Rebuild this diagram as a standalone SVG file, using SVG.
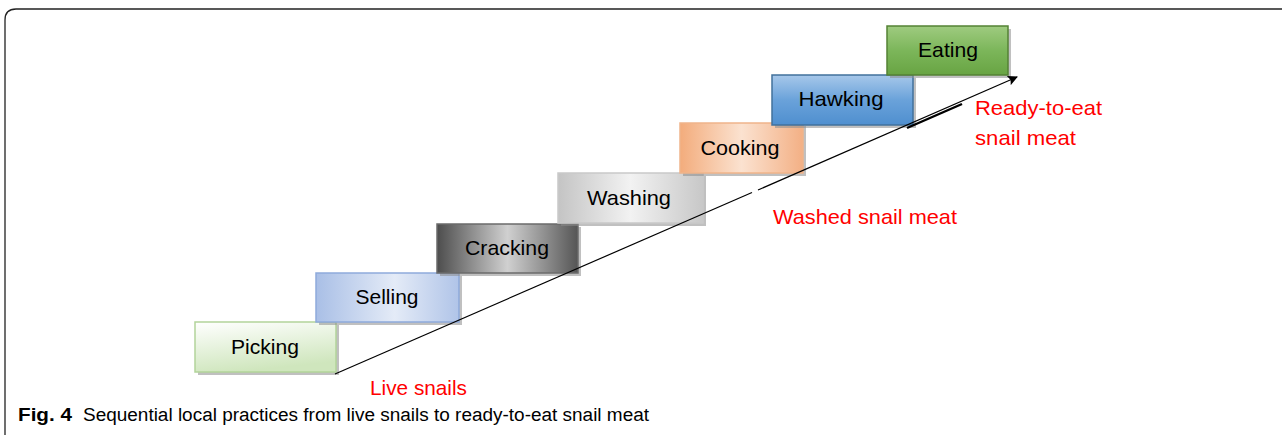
<svg xmlns="http://www.w3.org/2000/svg" width="1282" height="435" viewBox="0 0 1282 435">
<defs>
<linearGradient id="gPick" x1="0" y1="0" x2="0.3" y2="1"><stop offset="0" stop-color="#ffffff"/><stop offset="1" stop-color="#cfe6bd"/></linearGradient>
<linearGradient id="gSell" x1="0" y1="0" x2="1" y2="0"><stop offset="0" stop-color="#a9bfe6"/><stop offset="0.55" stop-color="#e4ebf7"/><stop offset="1" stop-color="#b0c4e8"/></linearGradient>
<linearGradient id="gCrack" x1="0" y1="0" x2="1" y2="0"><stop offset="0" stop-color="#4d4d4d"/><stop offset="0.5" stop-color="#d0d0d0"/><stop offset="1" stop-color="#555555"/></linearGradient>
<linearGradient id="gWash" x1="0" y1="0" x2="1" y2="0"><stop offset="0" stop-color="#c4c4c4"/><stop offset="0.5" stop-color="#f2f2f2"/><stop offset="1" stop-color="#c8c8c8"/></linearGradient>
<linearGradient id="gCook" x1="0" y1="0" x2="1" y2="0"><stop offset="0" stop-color="#f3ac7c"/><stop offset="0.5" stop-color="#fbe2d0"/><stop offset="1" stop-color="#f3b085"/></linearGradient>
<linearGradient id="gHawk" x1="0" y1="0" x2="0" y2="1"><stop offset="0" stop-color="#a7c8ea"/><stop offset="0.5" stop-color="#6aa2da"/><stop offset="1" stop-color="#4f8fcf"/></linearGradient>
<linearGradient id="gEat" x1="0" y1="0" x2="0" y2="1"><stop offset="0" stop-color="#9fcb80"/><stop offset="0.5" stop-color="#7cb65a"/><stop offset="1" stop-color="#68a443"/></linearGradient>
<marker id="arr" markerWidth="10" markerHeight="10" refX="9" refY="5" orient="auto" markerUnits="userSpaceOnUse"><path d="M0,0 L10,5 L0,10 L2,5 Z" fill="#000"/></marker>
</defs>
<style>
.box{stroke-width:1.5}
.sh{fill:#8c8c8c;opacity:0.55}
.lbl{font-family:"Liberation Sans",Arial,sans-serif;font-size:21px;fill:#000;text-anchor:middle}
.red{font-family:"Liberation Sans",Arial,sans-serif;font-size:21px;fill:#ff0000}
.cap{font-family:"Liberation Sans",Arial,sans-serif;font-size:18px;fill:#000}
</style>
<rect width="1282" height="435" fill="#fff"/>
<path d="M5,435 V20 Q5,9 16,9 H1282" fill="none" stroke="#222" stroke-width="1.3"/>

<g id="picking"><rect class="sh" x="198" y="325" width="141" height="50"/><rect class="box" x="195" y="322" width="141" height="50" fill="url(#gPick)" stroke="#b2d49a"/><text class="lbl" x="265" y="354" textLength="68" lengthAdjust="spacingAndGlyphs">Picking</text></g>
<g id="selling"><rect class="sh" x="319" y="276" width="143" height="49"/><rect class="box" x="316" y="273" width="143" height="49" fill="url(#gSell)" stroke="#8eaadb"/><text class="lbl" x="387" y="304" textLength="63" lengthAdjust="spacingAndGlyphs">Selling</text></g>
<g id="cracking"><rect class="sh" x="440" y="227" width="141" height="49"/><rect class="box" x="437" y="224" width="141" height="49" fill="url(#gCrack)" stroke="#6b6b6b"/><text class="lbl" x="507" y="255" textLength="84" lengthAdjust="spacingAndGlyphs">Cracking</text></g>
<g id="washing"><rect class="sh" x="561" y="176" width="145" height="50"/><rect class="box" x="558" y="173" width="145" height="50" fill="url(#gWash)" stroke="#c9c9c9"/><text class="lbl" x="629" y="205" textLength="84" lengthAdjust="spacingAndGlyphs">Washing</text></g>
<g id="cooking"><rect class="sh" x="683" y="126" width="123" height="50"/><rect class="box" x="680" y="123" width="123" height="50" fill="url(#gCook)" stroke="#f0b48a"/><text class="lbl" x="740" y="155" textLength="79" lengthAdjust="spacingAndGlyphs">Cooking</text></g>
<g id="hawking"><rect class="sh" x="775" y="78" width="141" height="50"/><rect class="box" x="772" y="75" width="141" height="50" fill="url(#gHawk)" stroke="#41719c"/><text class="lbl" x="841" y="106" textLength="85" lengthAdjust="spacingAndGlyphs">Hawking</text></g>
<g id="eating"><rect class="sh" x="890" y="29" width="121" height="49"/><rect class="box" x="887" y="26" width="121" height="49" fill="url(#gEat)" stroke="#548235"/><text class="lbl" x="948" y="57" textLength="60" lengthAdjust="spacingAndGlyphs">Eating</text></g>

<g id="connectors" fill="none" stroke="#000">
<line x1="335" y1="374" x2="752" y2="192.5" stroke-width="1.2"/>
<line x1="758" y1="190" x2="1017" y2="77" stroke-width="1.2" marker-end="url(#arr)"/>
<line x1="907" y1="128" x2="962" y2="104" stroke-width="2.4"/>
</g>

<text class="red" x="370" y="395" textLength="97" lengthAdjust="spacingAndGlyphs">Live snails</text>
<text class="red" x="773" y="224" textLength="184" lengthAdjust="spacingAndGlyphs">Washed snail meat</text>
<text class="red" x="975" y="115" textLength="127" lengthAdjust="spacingAndGlyphs">Ready-to-eat</text>
<text class="red" x="975" y="145" textLength="101" lengthAdjust="spacingAndGlyphs">snail meat</text>

<text class="cap" x="18" y="421" font-weight="bold" textLength="54" lengthAdjust="spacingAndGlyphs">Fig. 4</text>
<text class="cap" x="83" y="421" textLength="566" lengthAdjust="spacingAndGlyphs">Sequential local practices from live snails to ready-to-eat snail meat</text>
</svg>
